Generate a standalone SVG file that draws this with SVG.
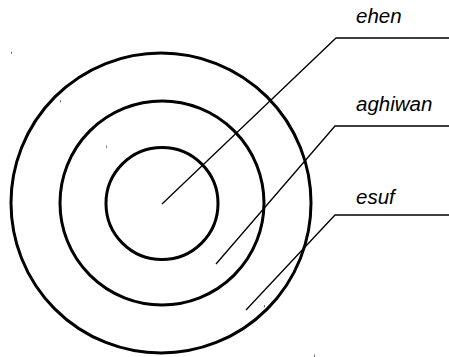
<svg xmlns="http://www.w3.org/2000/svg" width="449" height="357" viewBox="0 0 449 357">
<style>
.ring{fill:none;stroke:#000;stroke-width:3}
.lead{fill:none;stroke:#000;stroke-width:1.3}
.lbl{font-family:"Liberation Sans",Arial,sans-serif;font-style:italic;font-size:20.5px;fill:#000}
.tick{stroke:#777;stroke-width:1}
</style>
<rect width="449" height="357" fill="#fff"/>
<g id="ring-esuf"><circle class="ring" cx="161" cy="203" r="150"/></g>
<g id="ring-aghiwan"><circle class="ring" cx="162" cy="203" r="102"/></g>
<g id="ring-ehen"><circle class="ring" cx="162" cy="203.5" r="56"/></g>
<g id="marks">
<line class="tick" x1="11.5" y1="51.5" x2="11.5" y2="54"/>
<line class="tick" x1="60.5" y1="100" x2="60.5" y2="102.5"/>
<line class="tick" x1="106.5" y1="145.5" x2="106.5" y2="148"/>
<line class="tick" x1="264.5" y1="305" x2="264.5" y2="307.5"/>
<line class="tick" x1="314.5" y1="354.5" x2="314.5" y2="357"/>
</g>
<g id="connectors">
<polyline class="lead" points="162,204 336,38 449,38"/>
<polyline class="lead" points="216,264 335,126 449,126"/>
<polyline class="lead" points="246,310 335,215 449,215"/>
</g>
<g id="labels">
<text class="lbl" x="356" y="23">ehen</text>
<text class="lbl" x="356" y="111">aghiwan</text>
<text class="lbl" x="356" y="204">esuf</text>
</g>
</svg>
